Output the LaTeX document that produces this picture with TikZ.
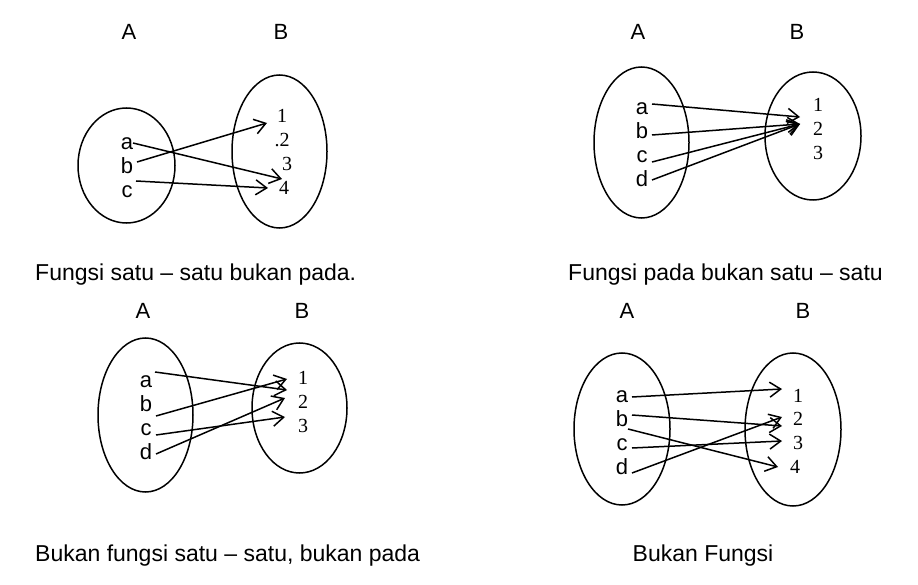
\documentclass[tikz,border=0pt]{standalone}
\usepackage{fontspec}
\usetikzlibrary{arrows.meta}
\newfontfamily\arialf{Liberation Sans}
\newfontfamily\timesf{Liberation Serif}
\newcommand\mylab{\arialf\fontsize{22}{26}\selectfont}
\newcommand\mynum{\timesf\fontsize{20}{24}\selectfont}
\newcommand\mycap{\arialf\fontsize{23}{27}\selectfont}
\tikzset{
  lab/.style={font=\mylab, inner sep=0pt, anchor=base},
  num/.style={font=\mynum, inner sep=0pt, anchor=base},
  captext/.style={font=\mycap, inner sep=0pt, anchor=base west},
  arr/.style={-{Straight Barb[length=11pt,width=15pt]}, line width=1.5pt},
  setl/.style={line width=1.5pt},
}
\begin{document}
\begin{tikzpicture}[x=1pt,y=-1pt]
\useasboundingbox (0,0) rectangle (918,585);
\fill[white] (0,0) rectangle (918,585);

% ---------- Panel 1 ----------
\node[lab] (hA1) at (129,40) {A};
\node[lab] (hB1) at (281,40) {B};
\draw[setl] (126.5,165.5) ellipse [x radius=48.5, y radius=57.5];
\draw[setl] (279.5,151.5) ellipse [x radius=47.5, y radius=76.5];
\node[lab] (p1a) at (127,150) {a};
\node[lab] (p1b) at (127,174) {b};
\node[lab] (p1c) at (127,198) {c};
\node[num] (p1n1) at (282,123) {1};
\node[num] (p1n2) at (282,147) {.2};
\node[num] (p1n3) at (287,171) {3};
\node[num] (p1n4) at (284,195) {4};
\draw[arr] ([shift={(6,-7)}]p1a.base) -- ([shift={(-2,-16)}]p1n4.base);
\draw[arr] ([shift={(10,-12)}]p1b.base) -- ([shift={(-15,0)}]p1n1.base);
\draw[arr] ([shift={(9,-17)}]p1c.base) -- ([shift={(-16,-7)}]p1n4.base);
\node[captext] (cap1) at (35,280) {Fungsi satu – satu bukan pada.};

% ---------- Panel 2 ----------
\node[lab] (hA2) at (638,40) {A};
\node[lab] (hB2) at (797,40) {B};
\draw[setl] (641.5,142.5) ellipse [x radius=47.5, y radius=75.5];
\draw[setl] (813,136) ellipse [x radius=48, y radius=64];
\node[lab] (p2a) at (642,115) {a};
\node[lab] (p2b) at (642,139) {b};
\node[lab] (p2c) at (642,163) {c};
\node[lab] (p2d) at (642,187) {d};
\node[num] (p2n1) at (818,112) {1};
\node[num] (p2n2) at (818,136) {2};
\node[num] (p2n3) at (818,160) {3};
\draw[arr] ([shift={(10,-11)}]p2a.base) -- ([shift={(-18,-19)}]p2n2.base);
\draw[arr] ([shift={(10,-4)}]p2b.base) -- ([shift={(-18,-12)}]p2n2.base);
\draw[arr] ([shift={(10,-1)}]p2c.base) -- ([shift={(-18,-12)}]p2n2.base);
\draw[arr] ([shift={(10,-7)}]p2d.base) -- ([shift={(-18,-12)}]p2n2.base);
\node[captext] (cap2) at (568,280) {Fungsi pada bukan satu – satu};

% ---------- Panel 3 ----------
\node[lab] (hA3) at (143,319) {A};
\node[lab] (hB3) at (302,319) {B};
\draw[setl] (145.5,415) ellipse [x radius=47.5, y radius=77];
\draw[setl] (299.5,408) ellipse [x radius=47.5, y radius=65];
\node[lab] (p3a) at (146,387) {a};
\node[lab] (p3b) at (146,411) {b};
\node[lab] (p3c) at (146,435) {c};
\node[lab] (p3d) at (146,459) {d};
\node[num] (p3n1) at (303,384) {1};
\node[num] (p3n2) at (303,408) {2};
\node[num] (p3n3) at (303,432) {3};
\draw[arr] ([shift={(9,-15)}]p3a.base) -- ([shift={(-16,6)}]p3n1.base);
\draw[arr] ([shift={(10,5)}]p3b.base) -- ([shift={(-16,-5)}]p3n1.base);
\draw[arr] ([shift={(10,0)}]p3c.base) -- ([shift={(-18,-15)}]p3n3.base);
\draw[arr] ([shift={(10,-5)}]p3d.base) -- ([shift={(-18,-10)}]p3n2.base);
\node[captext] (cap3) at (35,561) {Bukan fungsi satu – satu, bukan pada};

% ---------- Panel 4 ----------
\node[lab] (hA4) at (627,319) {A};
\node[lab] (hB4) at (803,319) {B};
\draw[setl] (622,429) ellipse [x radius=48, y radius=76];
\draw[setl] (793,429.5) ellipse [x radius=48, y radius=76.5];
\node[lab] (p4a) at (622,402) {a};
\node[lab] (p4b) at (622,426) {b};
\node[lab] (p4c) at (622,450) {c};
\node[lab] (p4d) at (622,474) {d};
\node[num] (p4n1) at (798,402) {1};
\node[num] (p4n2) at (798,425) {2};
\node[num] (p4n3) at (798,449) {3};
\node[num] (p4n4) at (795,473) {4};
\draw[arr] ([shift={(10,-5)}]p4a.base) -- ([shift={(-16,-13)}]p4n1.base);
\draw[arr] ([shift={(10,-11)}]p4b.base) -- ([shift={(-16,1)}]p4n2.base);
\draw[arr] ([shift={(6,3)}]p4b.base) -- ([shift={(-17,-6)}]p4n4.base);
\draw[arr] ([shift={(10,-2)}]p4c.base) -- ([shift={(-16,-8)}]p4n3.base);
\draw[arr] ([shift={(10,-1)}]p4d.base) -- ([shift={(-16,-8)}]p4n2.base);
\node[lab, font=\mycap] (cap4) at (703,561) {Bukan Fungsi};
\end{tikzpicture}
\end{document}
